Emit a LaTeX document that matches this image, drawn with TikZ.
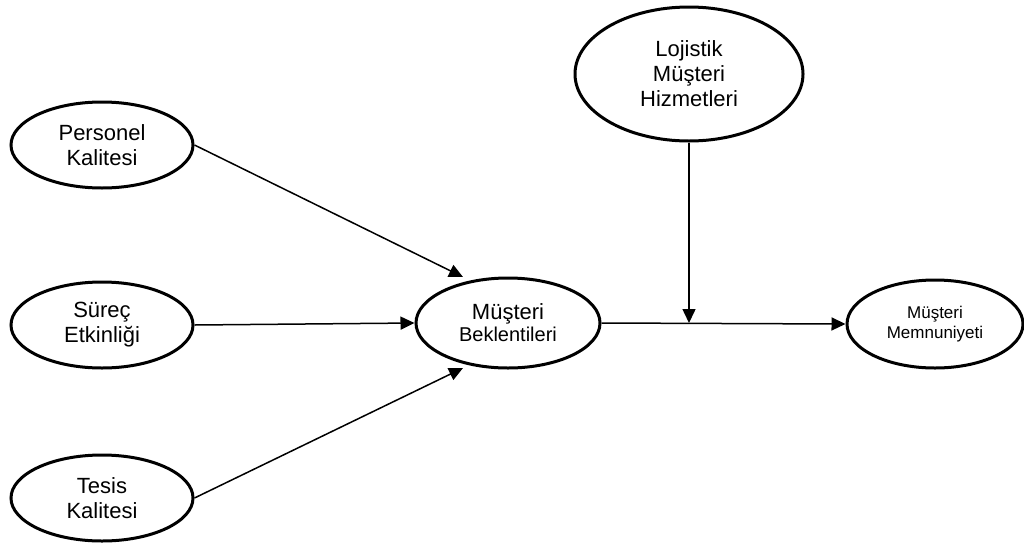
\documentclass[tikz,border=0pt]{standalone}
\usepackage{fontspec}
\setmainfont{Liberation Sans}
\usetikzlibrary{shapes.geometric,arrows.meta}
\begin{document}
\begin{tikzpicture}[x=1pt,y=-1pt,
  factor/.style={ellipse,draw,line width=3pt,inner sep=0pt,align=center,
    font=\fontsize{22}{25}\selectfont},
  link/.style={line width=1.5pt,-{Triangle[length=14pt,width=13pt]}},
  plain/.style={line width=1.5pt}]
\useasboundingbox (0,0) rectangle (1024,552);

% antecedent factors
\node[factor,minimum width=182pt,minimum height=86pt] (pk) at (102,145) {Personel\\Kalitesi};
\node[factor,minimum width=182pt,minimum height=86pt] (se) at (102,325) {Süreç\\Etkinliği};
\node[factor,minimum width=182pt,minimum height=86pt] (tk) at (102,498) {Tesis\\Kalitesi};

% mediator, moderator and outcome
\node[factor,minimum width=184pt,minimum height=90pt] (mb) at (508,323)
  {Müşteri\\[-3pt]{\fontsize{20}{22}\selectfont Beklentileri}};
\node[factor,minimum width=228pt,minimum height=134pt] (lm) at (689,74) {Lojistik\\Müşteri\\Hizmetleri};
\node[factor,minimum width=176pt,minimum height=88pt,font=\fontsize{17}{19.5}\selectfont] (mm) at (935,324)
  {Müşteri\\Memnuniyeti};

% arrow tips and the moderation point
\coordinate (tipA) at (463,277);
\coordinate (tipB) at (463,368);
\coordinate (join) at (689,323);

\draw[link] (pk.east) -- (tipA);
\draw[link] (tk.east) -- (tipB);
\draw[link] (se.east) -- (mb.west);
\draw[link] (mb.east) -- (mm.west);
\draw[link] (lm.south) -- (join);
\end{tikzpicture}
\end{document}
